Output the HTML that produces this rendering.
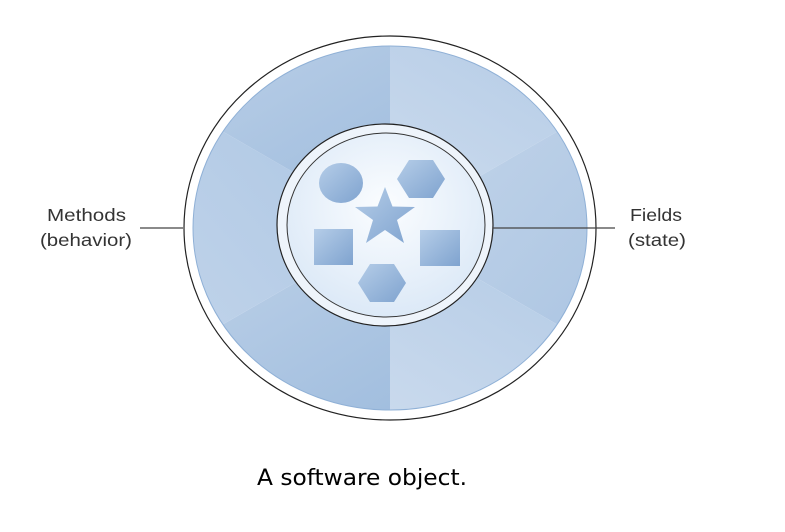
<!DOCTYPE html>
<html><head><meta charset="utf-8"><style>body{margin:0;background:#fff}svg{display:block}</style></head><body>
<svg width="785" height="532" viewBox="0 0 785 532" xmlns="http://www.w3.org/2000/svg">
<defs>
<linearGradient id="a" x1="0" y1="0" x2="1" y2="1"><stop offset="0" stop-color="#c9d9ec"/><stop offset="1" stop-color="#9dbbdd"/></linearGradient>
<linearGradient id="b" x1="1" y1="0" x2="0" y2="1"><stop offset="0" stop-color="#a8c3e2"/><stop offset="1" stop-color="#cddcee"/></linearGradient>
<radialGradient id="c" cx="0.5" cy="0.4" r="0.6"><stop offset="0" stop-color="#fbfdff"/><stop offset="1" stop-color="#dce9f7"/></radialGradient>
<linearGradient id="s" x1="0" y1="0" x2="1" y2="1"><stop offset="0" stop-color="#b5cde8"/><stop offset="1" stop-color="#7fa3cf"/></linearGradient>
<clipPath id="cl"><ellipse cx="390" cy="228" rx="197" ry="182"/></clipPath>
</defs>
<ellipse cx="390" cy="228" rx="206" ry="192" fill="#fff" stroke="#222" stroke-width="1.2"/>
<g clip-path="url(#cl)">
<path d="M390 228 L390 0 L780 3 Z" fill="url(#b)"/>
<path d="M390 228 L780 3 L780 453 Z" fill="url(#a)"/>
<path d="M390 228 L780 453 L390 460 Z" fill="url(#b)"/>
<path d="M390 228 L390 460 L0 453 Z" fill="url(#a)"/>
<path d="M390 228 L0 453 L0 3 Z" fill="url(#b)"/>
<path d="M390 228 L0 3 L390 0 Z" fill="url(#a)"/>
</g>
<ellipse cx="390" cy="228" rx="197" ry="182" fill="none" stroke="#8fb0d6" stroke-width="1"/>
<ellipse cx="385" cy="225" rx="108" ry="101" fill="#eef4fb" stroke="#222" stroke-width="1.2"/>
<ellipse cx="386" cy="225" rx="99" ry="92" fill="url(#c)" stroke="#333" stroke-width="1"/>
<ellipse cx="341" cy="183" rx="22" ry="20" fill="url(#s)"/>
<polygon points="409,160 433,160 445,179 433,198 409,198 397,179" fill="url(#s)"/>
<polygon points="370,264 394,264 406,283 394,302 370,302 358,283" fill="url(#s)"/>
<rect x="314" y="229" width="39" height="36" fill="url(#s)"/>
<rect x="420" y="230" width="40" height="36" fill="url(#s)"/>
<polygon points="385,187 392.5,206.5 415,207 397,220 404,243 385,230 366,243 373,220 355,207 377.5,206.5" fill="url(#s)"/>
<line x1="140" y1="228" x2="183" y2="228" stroke="#444" stroke-width="1.2"/>
<line x1="493" y1="228" x2="615" y2="228" stroke="#444" stroke-width="1.2"/>
<g font-family="Liberation Sans, sans-serif" font-size="17.5" fill="#333">
<text x="47" y="221" textLength="79" lengthAdjust="spacingAndGlyphs">Methods</text>
<text x="40" y="246" textLength="92" lengthAdjust="spacingAndGlyphs">(behavior)</text>
<text x="630" y="221" textLength="52" lengthAdjust="spacingAndGlyphs">Fields</text>
<text x="628" y="246" textLength="58" lengthAdjust="spacingAndGlyphs">(state)</text>
</g>
<text x="257" y="485" font-family="DejaVu Sans, Liberation Sans, sans-serif" font-size="22" fill="#000" textLength="210" lengthAdjust="spacingAndGlyphs">A software object.</text>
</svg>
</body></html>
